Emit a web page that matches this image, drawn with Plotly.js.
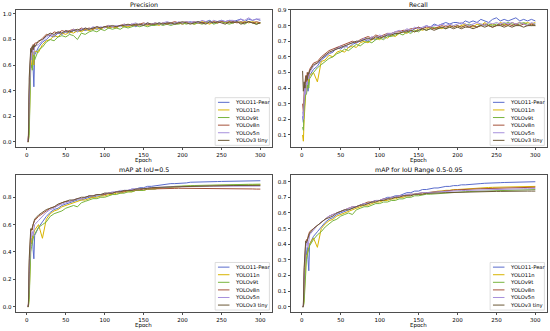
<!DOCTYPE html>
<html>
<head>
<meta charset="utf-8">
<script src="https://cdn.plot.ly/plotly-3.0.1.min.js"></script>
<style>html,body{margin:0;padding:0;background:#fff;}#chart{width:550px;height:331px;}</style>
</head>
<body>
<div id="chart"></div>
<script>
// ---------------- DATA ----------------
const epochs = [1,2,3,4,5,6,7,8,9,10,
  15,20,25,30,35,40,45,50,55,60,
  65,70,75,80,85,90,95,100,105,110,
  115,120,125,130,135,140,145,150,155,160,
  165,170,175,180,185,190,195,200,205,210,
  215,220,225,230,235,240,245,250,255,260,
  265,270,275,280,285,290,295,300];

const modelNames = ['YOLO11-Pear','YOLO11n','YOLOv9t','YOLOv8n','YOLOv5n','YOLOv3 tiny'];
const panelTitles = ['Precision','Recall','mAP at IoU=0.5','mAP for IoU Range 0.5-0.95'];
const xTickVals = [0,50,100,150,200,250,300];

// Precision
const precision_pear = [0.00,0.02,0.35,0.62,0.70,0.66,0.72,0.58,0.43,0.68,
  0.74,0.78,0.80,0.83,0.82,0.85,0.84,0.86,0.85,0.87,
  0.86,0.88,0.87,0.88,0.89,0.88,0.89,0.90,0.89,0.90,
  0.90,0.91,0.90,0.91,0.92,0.90,0.92,0.91,0.92,0.91,
  0.92,0.93,0.92,0.93,0.92,0.93,0.93,0.92,0.93,0.94,
  0.93,0.94,0.93,0.94,0.95,0.93,0.94,0.95,0.94,0.95,
  0.94,0.95,0.96,0.94,0.96,0.95,0.96,0.95];
const precision_11n = [0.00,0.00,0.10,0.45,0.62,0.58,0.70,0.66,0.60,0.71,
  0.70,0.76,0.79,0.80,0.83,0.82,0.85,0.84,0.86,0.85,
  0.87,0.86,0.88,0.87,0.88,0.89,0.88,0.90,0.89,0.90,
  0.89,0.91,0.90,0.90,0.91,0.92,0.91,0.92,0.91,0.92,
  0.92,0.91,0.93,0.92,0.93,0.92,0.93,0.92,0.93,0.93,
  0.92,0.93,0.94,0.93,0.92,0.94,0.93,0.94,0.93,0.94,
  0.93,0.94,0.93,0.94,0.93,0.94,0.93,0.93];
const precision_v9t = [0.00,0.01,0.05,0.40,0.58,0.60,0.56,0.66,0.70,0.64,
  0.72,0.74,0.78,0.80,0.79,0.82,0.83,0.82,0.84,0.83,
  0.80,0.85,0.84,0.86,0.87,0.86,0.88,0.87,0.89,0.88,
  0.89,0.88,0.90,0.89,0.90,0.91,0.90,0.91,0.90,0.91,
  0.91,0.92,0.91,0.92,0.91,0.92,0.92,0.93,0.92,0.93,
  0.92,0.93,0.92,0.93,0.94,0.92,0.93,0.94,0.93,0.92,
  0.93,0.94,0.93,0.92,0.94,0.93,0.92,0.93];
const precision_v8n = [0.00,0.05,0.40,0.66,0.72,0.74,0.70,0.76,0.72,0.77,
  0.78,0.81,0.84,0.83,0.86,0.85,0.87,0.86,0.87,0.88,
  0.87,0.89,0.88,0.89,0.88,0.90,0.89,0.90,0.91,0.90,
  0.90,0.91,0.92,0.91,0.92,0.91,0.92,0.93,0.92,0.92,
  0.93,0.92,0.93,0.92,0.93,0.94,0.93,0.93,0.94,0.93,
  0.94,0.93,0.93,0.94,0.93,0.94,0.93,0.94,0.94,0.93,
  0.94,0.93,0.94,0.93,0.94,0.93,0.94,0.93];
const precision_v5n = [0.00,0.03,0.30,0.60,0.68,0.64,0.74,0.70,0.68,0.75,
  0.76,0.79,0.82,0.84,0.83,0.86,0.85,0.87,0.86,0.88,
  0.87,0.88,0.89,0.88,0.90,0.89,0.90,0.89,0.91,0.90,
  0.91,0.90,0.92,0.91,0.92,0.93,0.91,0.92,0.93,0.92,
  0.93,0.92,0.93,0.94,0.93,0.92,0.94,0.93,0.94,0.93,
  0.94,0.93,0.95,0.94,0.93,0.95,0.94,0.95,0.94,0.95,
  0.95,0.94,0.96,0.95,0.97,0.95,0.96,0.96];
const precision_v3tiny = [0.00,0.00,0.50,0.71,0.73,0.70,0.75,0.72,0.76,0.74,
  0.79,0.80,0.83,0.85,0.84,0.86,0.85,0.87,0.86,0.87,
  0.88,0.87,0.89,0.88,0.89,0.90,0.89,0.90,0.90,0.91,
  0.90,0.91,0.91,0.92,0.91,0.92,0.92,0.91,0.93,0.92,
  0.92,0.93,0.92,0.93,0.93,0.92,0.93,0.94,0.93,0.92,
  0.93,0.94,0.93,0.92,0.94,0.93,0.94,0.93,0.92,0.94,
  0.93,0.94,0.92,0.93,0.94,0.93,0.92,0.93];

// Recall
const recall_pear = [0.22,0.18,0.30,0.38,0.42,0.40,0.45,0.38,0.47,0.48,
  0.52,0.54,0.58,0.60,0.62,0.63,0.66,0.65,0.67,0.66,
  0.68,0.69,0.70,0.71,0.70,0.72,0.71,0.73,0.72,0.74,
  0.74,0.75,0.75,0.76,0.77,0.76,0.78,0.79,0.78,0.80,
  0.79,0.81,0.80,0.81,0.82,0.81,0.82,0.82,0.81,0.83,
  0.82,0.83,0.82,0.84,0.83,0.82,0.84,0.85,0.83,0.84,
  0.83,0.84,0.85,0.83,0.84,0.83,0.84,0.83];
const recall_11n = [0.10,0.06,0.20,0.33,0.36,0.42,0.40,0.46,0.44,0.48,
  0.50,0.44,0.57,0.58,0.61,0.60,0.63,0.64,0.63,0.66,
  0.67,0.66,0.69,0.70,0.69,0.71,0.72,0.71,0.73,0.72,
  0.74,0.73,0.75,0.76,0.75,0.77,0.76,0.78,0.77,0.78,
  0.79,0.78,0.79,0.78,0.80,0.79,0.80,0.79,0.80,0.81,
  0.80,0.79,0.81,0.80,0.82,0.80,0.81,0.80,0.82,0.81,
  0.80,0.82,0.81,0.82,0.81,0.82,0.81,0.82];
const recall_v9t = [0.15,0.13,0.25,0.30,0.38,0.36,0.42,0.44,0.40,0.46,
  0.50,0.53,0.55,0.57,0.59,0.60,0.62,0.63,0.65,0.64,
  0.66,0.68,0.67,0.69,0.70,0.69,0.71,0.72,0.71,0.73,
  0.73,0.74,0.75,0.74,0.76,0.75,0.77,0.76,0.78,0.77,
  0.78,0.79,0.78,0.79,0.78,0.80,0.79,0.80,0.79,0.80,
  0.81,0.80,0.79,0.81,0.80,0.81,0.80,0.81,0.80,0.81,
  0.82,0.81,0.80,0.81,0.82,0.81,0.80,0.81];
const recall_v8n = [0.30,0.25,0.38,0.45,0.48,0.44,0.50,0.47,0.50,0.52,
  0.56,0.57,0.60,0.62,0.64,0.65,0.66,0.67,0.68,0.69,
  0.70,0.69,0.71,0.72,0.73,0.72,0.74,0.73,0.74,0.75,
  0.75,0.76,0.76,0.77,0.77,0.78,0.78,0.79,0.78,0.79,
  0.79,0.78,0.79,0.80,0.79,0.80,0.79,0.80,0.79,0.80,
  0.79,0.80,0.79,0.80,0.81,0.80,0.79,0.80,0.81,0.80,
  0.81,0.80,0.81,0.80,0.81,0.80,0.81,0.80];
const recall_v5n = [0.25,0.20,0.32,0.40,0.36,0.44,0.42,0.48,0.46,0.50,
  0.54,0.56,0.58,0.61,0.62,0.64,0.65,0.67,0.66,0.68,
  0.69,0.70,0.70,0.72,0.71,0.73,0.72,0.74,0.73,0.75,
  0.75,0.76,0.77,0.76,0.78,0.77,0.79,0.78,0.79,0.80,
  0.79,0.80,0.80,0.81,0.80,0.81,0.80,0.81,0.82,0.81,
  0.80,0.81,0.82,0.81,0.80,0.82,0.81,0.82,0.81,0.82,
  0.81,0.82,0.81,0.82,0.81,0.80,0.82,0.81];
const recall_v3tiny = [0.51,0.38,0.44,0.40,0.46,0.48,0.45,0.50,0.49,0.51,
  0.55,0.56,0.59,0.61,0.63,0.64,0.65,0.66,0.67,0.68,
  0.69,0.70,0.70,0.71,0.72,0.71,0.73,0.72,0.73,0.74,
  0.74,0.75,0.75,0.76,0.76,0.77,0.76,0.77,0.78,0.77,
  0.78,0.77,0.78,0.79,0.78,0.79,0.78,0.79,0.78,0.79,
  0.79,0.78,0.79,0.80,0.79,0.80,0.79,0.80,0.80,0.79,
  0.80,0.79,0.80,0.80,0.79,0.80,0.80,0.80];

// mAP at IoU=0.5
const map50_pear = [0.00,0.01,0.20,0.42,0.50,0.46,0.52,0.42,0.35,0.52,
  0.58,0.62,0.66,0.69,0.71,0.72,0.74,0.75,0.76,0.77,
  0.78,0.78,0.79,0.80,0.80,0.81,0.81,0.82,0.83,0.83,
  0.84,0.84,0.85,0.85,0.86,0.86,0.87,0.87,0.88,0.88,
  0.885,0.89,0.89,0.895,0.90,0.90,0.90,0.905,0.905,0.91,
  0.91,0.91,0.912,0.913,0.914,0.915,0.915,0.916,0.917,0.917,
  0.918,0.918,0.919,0.919,0.92,0.92,0.92,0.921];
const map50_11n = [0.00,0.00,0.08,0.30,0.45,0.48,0.50,0.52,0.55,0.56,
  0.60,0.50,0.64,0.68,0.70,0.71,0.73,0.74,0.75,0.76,
  0.77,0.78,0.78,0.79,0.80,0.80,0.81,0.81,0.82,0.82,
  0.83,0.83,0.84,0.84,0.84,0.85,0.85,0.85,0.86,0.86,
  0.86,0.865,0.87,0.87,0.87,0.875,0.875,0.88,0.88,0.88,
  0.88,0.882,0.884,0.885,0.886,0.887,0.888,0.888,0.889,0.889,
  0.89,0.89,0.89,0.89,0.89,0.891,0.891,0.891];
const map50_v9t = [0.00,0.00,0.05,0.25,0.40,0.44,0.47,0.50,0.52,0.53,
  0.58,0.60,0.62,0.66,0.68,0.69,0.70,0.72,0.73,0.74,
  0.73,0.76,0.77,0.78,0.79,0.79,0.80,0.80,0.81,0.82,
  0.82,0.83,0.83,0.84,0.84,0.85,0.85,0.85,0.86,0.86,
  0.86,0.87,0.87,0.87,0.875,0.88,0.88,0.88,0.883,0.885,
  0.886,0.887,0.888,0.889,0.89,0.89,0.891,0.892,0.892,0.893,
  0.893,0.894,0.894,0.895,0.895,0.895,0.896,0.896];
const map50_v8n = [0.00,0.02,0.30,0.50,0.55,0.57,0.56,0.60,0.62,0.63,
  0.66,0.68,0.70,0.72,0.73,0.74,0.76,0.77,0.77,0.78,
  0.79,0.79,0.80,0.81,0.81,0.82,0.82,0.82,0.83,0.83,
  0.84,0.84,0.84,0.85,0.85,0.85,0.855,0.86,0.86,0.86,
  0.86,0.86,0.865,0.865,0.865,0.865,0.866,0.866,0.866,0.865,
  0.865,0.865,0.865,0.864,0.864,0.864,0.864,0.863,0.863,0.863,
  0.862,0.862,0.862,0.861,0.861,0.861,0.86,0.86];
const map50_v5n = [0.00,0.01,0.25,0.45,0.50,0.53,0.55,0.52,0.58,0.60,
  0.63,0.66,0.69,0.71,0.72,0.74,0.75,0.76,0.77,0.78,
  0.79,0.79,0.80,0.81,0.81,0.82,0.82,0.83,0.83,0.84,
  0.84,0.85,0.85,0.85,0.86,0.86,0.86,0.865,0.87,0.87,
  0.87,0.87,0.873,0.875,0.876,0.877,0.878,0.878,0.879,0.879,
  0.88,0.88,0.88,0.88,0.881,0.881,0.881,0.881,0.882,0.882,
  0.882,0.882,0.882,0.882,0.882,0.882,0.882,0.882];
const map50_v3tiny = [0.00,0.00,0.35,0.55,0.57,0.56,0.58,0.60,0.62,0.64,
  0.67,0.69,0.71,0.72,0.73,0.75,0.76,0.77,0.78,0.78,
  0.79,0.80,0.80,0.81,0.81,0.82,0.82,0.83,0.83,0.83,
  0.84,0.84,0.85,0.85,0.85,0.86,0.86,0.86,0.865,0.87,
  0.87,0.87,0.873,0.875,0.876,0.877,0.878,0.879,0.88,0.88,
  0.881,0.882,0.882,0.883,0.883,0.884,0.884,0.885,0.885,0.885,
  0.886,0.886,0.886,0.886,0.887,0.887,0.887,0.887];

// mAP for IoU 0.5-0.95
const map95_pear = [0.00,0.00,0.15,0.30,0.36,0.33,0.38,0.30,0.23,0.40,
  0.45,0.48,0.51,0.54,0.56,0.57,0.59,0.60,0.61,0.62,
  0.63,0.64,0.65,0.66,0.66,0.67,0.68,0.68,0.69,0.70,
  0.70,0.71,0.71,0.72,0.73,0.73,0.74,0.74,0.75,0.75,
  0.755,0.76,0.76,0.765,0.77,0.77,0.775,0.775,0.78,0.78,
  0.783,0.785,0.787,0.788,0.79,0.79,0.792,0.793,0.794,0.795,
  0.796,0.797,0.797,0.798,0.798,0.799,0.80,0.80];
const map95_11n = [0.00,0.00,0.05,0.20,0.28,0.32,0.34,0.36,0.38,0.40,
  0.44,0.38,0.50,0.53,0.55,0.56,0.58,0.59,0.60,0.61,
  0.62,0.63,0.64,0.65,0.65,0.66,0.67,0.67,0.68,0.68,
  0.69,0.69,0.70,0.70,0.71,0.71,0.72,0.72,0.72,0.73,
  0.73,0.735,0.74,0.74,0.745,0.745,0.75,0.75,0.752,0.755,
  0.757,0.758,0.76,0.761,0.762,0.763,0.764,0.765,0.766,0.767,
  0.767,0.768,0.768,0.769,0.769,0.77,0.77,0.77];
const map95_v9t = [0.00,0.00,0.03,0.15,0.25,0.30,0.33,0.35,0.37,0.39,
  0.43,0.46,0.48,0.51,0.53,0.55,0.56,0.58,0.59,0.60,
  0.59,0.62,0.63,0.64,0.64,0.65,0.66,0.66,0.67,0.67,
  0.68,0.68,0.69,0.69,0.70,0.70,0.71,0.71,0.715,0.72,
  0.72,0.722,0.725,0.727,0.73,0.73,0.732,0.734,0.735,0.736,
  0.737,0.738,0.739,0.74,0.741,0.742,0.743,0.744,0.744,0.745,
  0.745,0.746,0.747,0.747,0.748,0.748,0.749,0.75];
const map95_v8n = [0.00,0.01,0.22,0.38,0.41,0.43,0.42,0.45,0.46,0.48,
  0.50,0.52,0.54,0.56,0.58,0.59,0.60,0.61,0.62,0.63,
  0.64,0.64,0.65,0.66,0.67,0.67,0.68,0.68,0.69,0.69,
  0.70,0.70,0.71,0.71,0.715,0.72,0.72,0.725,0.73,0.73,
  0.733,0.735,0.737,0.74,0.742,0.744,0.746,0.748,0.75,0.751,
  0.752,0.753,0.754,0.755,0.756,0.757,0.758,0.759,0.76,0.76,
  0.761,0.762,0.762,0.763,0.763,0.764,0.764,0.765];
const map95_v5n = [0.00,0.00,0.18,0.33,0.38,0.40,0.42,0.38,0.43,0.46,
  0.49,0.52,0.54,0.56,0.58,0.59,0.60,0.61,0.62,0.63,
  0.64,0.64,0.65,0.66,0.66,0.67,0.68,0.68,0.69,0.69,
  0.70,0.70,0.71,0.71,0.72,0.72,0.72,0.725,0.73,0.73,
  0.73,0.733,0.735,0.737,0.738,0.74,0.741,0.742,0.743,0.744,
  0.745,0.746,0.747,0.748,0.749,0.75,0.75,0.751,0.752,0.752,
  0.753,0.753,0.754,0.754,0.755,0.755,0.755,0.756];
const map95_v3tiny = [0.00,0.00,0.25,0.40,0.42,0.41,0.43,0.45,0.46,0.47,
  0.50,0.52,0.54,0.56,0.57,0.58,0.60,0.61,0.62,0.62,
  0.63,0.64,0.65,0.65,0.66,0.67,0.67,0.68,0.68,0.69,
  0.69,0.70,0.70,0.71,0.71,0.71,0.72,0.72,0.72,0.725,
  0.725,0.727,0.728,0.729,0.73,0.731,0.732,0.733,0.733,0.734,
  0.735,0.735,0.736,0.736,0.737,0.737,0.738,0.738,0.738,0.739,
  0.739,0.739,0.74,0.74,0.74,0.74,0.74,0.74];

// ---------------- STYLE / LAYOUT ----------------
const seriesByPanel = [
  [precision_pear, precision_11n, precision_v9t, precision_v8n, precision_v5n, precision_v3tiny],
  [recall_pear, recall_11n, recall_v9t, recall_v8n, recall_v5n, recall_v3tiny],
  [map50_pear, map50_11n, map50_v9t, map50_v8n, map50_v5n, map50_v3tiny],
  [map95_pear, map95_11n, map95_v9t, map95_v8n, map95_v5n, map95_v3tiny]
];
const lineColors = ['#5a6ccc','#d8b400','#78b43e','#a5523a','#a790dc','#6b5836'];
const yRanges = [[-0.041,1.031],[0.023,0.900],[-0.037,0.963],[-0.032,0.843]];
const yDtick = [0.2,0.1,0.2,0.1];
const yTick0 = [0,0.1,0,0];
const xDomains = [[0.0291,0.4945],[0.529,0.9945],[0.0291,0.4945],[0.529,0.9945]];
const yDomains = [[0.5559,0.9698],[0.5559,0.9698],[0.0583,0.4713],[0.0583,0.4713]];
const FONT = 'DejaVu Sans, sans-serif';

const traces = [];
const layout = {
  width: 550, height: 331,
  margin: {l:0, r:0, t:0, b:0},
  paper_bgcolor: '#fff', plot_bgcolor: '#fff',
  showlegend: false,
  font: {family: FONT, size: 6, color: '#000'},
  annotations: [], shapes: []
};

for (let p = 0; p < 4; p++) {
  const xa = p === 0 ? 'x' : 'x' + (p+1);
  const ya = p === 0 ? 'y' : 'y' + (p+1);
  const xkey = p === 0 ? 'xaxis' : 'xaxis' + (p+1);
  const ykey = p === 0 ? 'yaxis' : 'yaxis' + (p+1);
  seriesByPanel[p].forEach((vals, i) => {
    traces.push({
      type: 'scatter', mode: 'lines', x: epochs, y: vals,
      xaxis: xa, yaxis: ya, name: modelNames[i],
      line: {color: lineColors[i], width: 1}, hoverinfo: 'skip'
    });
  });
  layout[xkey] = {
    domain: xDomains[p], anchor: ya, range: [-13.95, 314.95],
    tickmode: 'array', tickvals: xTickVals,
    showgrid: false, zeroline: false,
    showline: true, mirror: true, linecolor: '#222', linewidth: 0.8,
    ticks: 'outside', ticklen: 2.5, tickwidth: 0.8, tickcolor: '#222',
    tickfont: {family: FONT, size: 5.5, color: '#000'}, automargin: false
  };
  layout[ykey] = {
    domain: yDomains[p], anchor: xa, range: yRanges[p],
    tickmode: 'linear', tick0: yTick0[p], dtick: yDtick[p], tickformat: '.1f',
    showgrid: false, zeroline: false,
    showline: true, mirror: true, linecolor: '#222', linewidth: 0.8,
    ticks: 'outside', ticklen: 2.5, tickwidth: 0.8, tickcolor: '#222',
    tickfont: {family: FONT, size: 5.5, color: '#000'}, automargin: false
  };
  const xd = xa + ' domain', yd = ya + ' domain';
  // panel title
  layout.annotations.push({
    text: panelTitles[p], xref: xd, yref: yd, x: 0.5, y: 1, yshift: 5,
    xanchor: 'center', yanchor: 'middle', showarrow: false, borderpad: 0,
    font: {family: FONT, size: 6.3, color: '#000'}
  });
  // x axis label
  layout.annotations.push({
    text: 'Epoch', xref: xd, yref: yd, x: 0.5, y: 0, yshift: -14,
    xanchor: 'center', yanchor: 'middle', showarrow: false, borderpad: 0,
    font: {family: FONT, size: 5.5, color: '#000'}
  });
  // legend box
  layout.shapes.push({
    type: 'rect', xref: xd, yref: yd, x0: 0.778, x1: 0.99, y0: 0.012, y1: 0.36,
    line: {color: '#d4d4d4', width: 0.8}, fillcolor: 'rgba(255,255,255,0.85)', layer: 'above'
  });
  modelNames.forEach((nm, i) => {
    const yy = 0.326 - i * 0.0555;
    layout.shapes.push({
      type: 'line', xref: xd, yref: yd, x0: 0.789, x1: 0.834, y0: yy, y1: yy,
      line: {color: lineColors[i], width: 1}, layer: 'above'
    });
    layout.annotations.push({
      text: nm, xref: xd, yref: yd, x: 0.85, y: yy,
      xanchor: 'left', yanchor: 'middle', showarrow: false, borderpad: 0,
      font: {family: FONT, size: 5.2, color: '#000'}
    });
  });
}

Plotly.newPlot('chart', traces, layout, {staticPlot: true, displayModeBar: false});
</script>
</body>
</html>
